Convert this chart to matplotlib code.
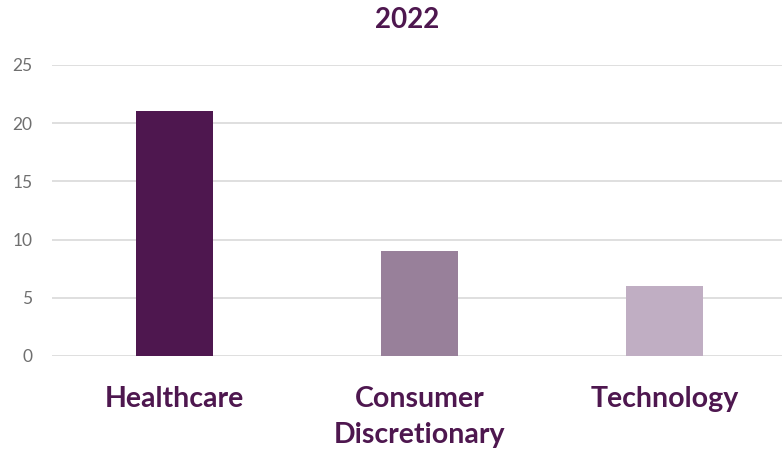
import matplotlib.pyplot as plt

categories = ['Healthcare', 'Consumer\nDiscretionary', 'Technology']
values = [21, 9, 6]
bar_colors = ['#4E174F', '#98809A', '#C0AEC3']
yticks = [0, 5, 10, 15, 20, 25]

plt.rcParams['font.family'] = ['Lato', 'DejaVu Sans']

fig = plt.figure(figsize=(7.82, 4.54), dpi=100)
ax = fig.add_axes([0.0665, 0.216, 0.9335, 0.641])

x = range(len(categories))
ax.bar(x, values, width=0.315, color=bar_colors, zorder=3)

ax.set_ylim(0, 25)
ax.set_xlim(-0.5, 2.48)
ax.set_yticks(yticks)
ax.set_xticks(list(x))
ax.set_xticklabels(categories, fontsize=20.5, fontweight='bold', color='#4E174F', linespacing=1.45)
ax.tick_params(axis='x', length=0, pad=22)
ax.tick_params(axis='y', length=0, pad=14, labelsize=12.5, labelcolor='#6F6F6F')
ax.yaxis.grid(True, color='#D9D9D9', linewidth=1.2, zorder=0)
for s in ax.spines.values():
    s.set_visible(False)

fig.text(0.52, 0.957, '2022', ha='center', va='center', fontsize=20,
         fontweight='bold', color='#4E174F')

fig.savefig('out.png', dpi=100)
